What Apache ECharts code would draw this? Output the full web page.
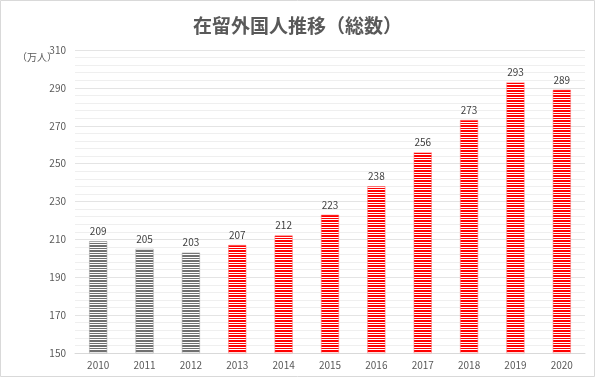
<!DOCTYPE html>
<html><head><meta charset="utf-8">
<script src="https://cdn.jsdelivr.net/npm/echarts@6/dist/echarts.min.js"></script>
<style>html,body{margin:0;padding:0;background:#fff}#c{width:595px;height:378px}</style>
</head><body><div id="c"></div>
<script>
const years = ['2010','2011','2012','2013','2014','2015','2016','2017','2018','2019','2020'];
const totals = [209,205,203,207,212,223,238,256,273,293,289];
const grayYears = ['2010','2011','2012'];
const titleText = '在留外国人推移（総数）';
const unitText = '（万人）';

function stripe(color){
  const c = document.createElement('canvas');
  c.width = 4; c.height = 5;
  const g = c.getContext('2d');
  g.fillStyle = '#ffffff'; g.fillRect(0,0,4,5);
  g.fillStyle = color; g.fillRect(0,0,4,2); g.fillRect(0,3,4,1);
  return {image: c, repeat: 'repeat'};
}
const grayPat = stripe('#707070');
const redPat = stripe('#ff0000');

const chart = echarts.init(document.getElementById('c'), null, {renderer:'canvas'});
const font = '"Noto Sans CJK JP", "Noto Sans", sans-serif';
chart.setOption({
  animation:false,
  backgroundColor:'#fff',
  textStyle:{fontFamily:font},
  title:{text:titleText,left:'center',top:11,textStyle:{fontSize:19,fontWeight:'bold',color:'#595959',fontFamily:font}},
  graphic:[
    {type:'rect',shape:{x:0.5,y:0.5,width:594,height:376},style:{fill:'none',stroke:'#d9d9d9',lineWidth:1}},
    {type:'text',left:17,top:52,style:{text:unitText,fontSize:10,fill:'#595959',fontFamily:font}}
  ],
  grid:{left:75,right:10,top:50,bottom:25},
  xAxis:{type:'category',data:years,
    axisLine:{lineStyle:{color:'#d9d9d9'}},axisTick:{show:false},
    axisLabel:{color:'#595959',fontSize:10,margin:7}},
  yAxis:{type:'value',min:150,max:310,interval:20,
    axisLine:{show:false},axisTick:{show:false},
    axisLabel:{color:'#595959',fontSize:10,margin:9},
    splitLine:{lineStyle:{color:'#e4e4e4'}},
    minorTick:{show:false,splitNumber:5},
    minorSplitLine:{show:true,lineStyle:{color:'#efefef'}}},
  series:[{type:'bar',barWidth:18,
    data:totals.map((v,i)=>({value:v,itemStyle:{color:grayYears.includes(years[i])?grayPat:redPat,
      borderColor:grayYears.includes(years[i])?'#9a9a9a':'#ff7070',borderWidth:0.5}})),
    label:{show:true,position:'top',color:'#404040',fontSize:10,distance:5}}]
});
</script></body></html>
